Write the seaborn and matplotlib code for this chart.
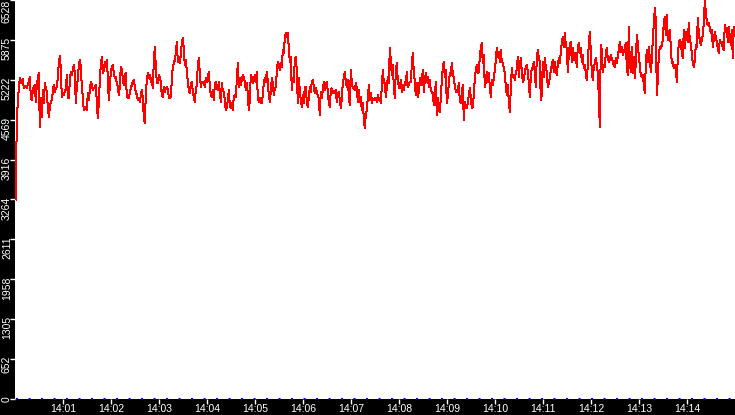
import pandas as pd
import seaborn as sns
import matplotlib.pyplot as plt
import matplotlib.dates as mdates
from matplotlib.transforms import ScaledTranslation

# samples every 1.25 s starting 14:00:01
part1 = [3264, 4619, 4837, 5082, 5246, 5164, 5218, 5229, 5082, 5120, 5109, 5093, 5137, 5191, 5273, 4946,
         4891, 5055, 5109, 5137, 4864, 5137, 5246, 5328, 4455, 4918, 4619, 5055, 4837, 5164, 5082, 5028,
         4782, 4619, 4755, 4864, 4891, 5028, 5137, 5028, 5082, 5109, 5246, 5491, 5611, 5409, 4946, 5000,
         4973, 5028, 5082, 5300, 4946, 4918, 5191, 5355, 5300, 5382, 5464, 5328, 4837, 5109, 5229, 5464,
         5546, 5437, 5109, 4946, 4728, 4755, 4782, 4728, 5000, 4891, 5055, 5191, 5137, 5055, 5082, 5109,
         5137, 4864, 4591, 4837, 5218, 5464, 5600, 5328, 5382, 5518, 5437, 5546, 5273, 4891, 5109, 5355,
         5437, 5464, 5328, 5246, 5273, 5164, 5109, 4973, 5109, 5437, 5382, 5246, 5137, 5300, 5328, 4946,
         4935, 4918, 5000, 5082, 5137, 5191, 5218, 5109]
part2 = [5028, 4973, 4891, 4918, 4864, 4973, 5055, 4918, 4619, 4510, 4973, 5218, 5328, 5246, 5300, 5191,
         5246, 5082, 5518, 5764, 5437, 5191, 5164, 5300, 5273, 5191, 4973, 4946, 5109, 5028, 5082, 5109,
         5055, 4946, 4918, 4946, 5218, 5437, 5491, 5546, 5655, 5846, 5518, 5600, 5491, 5627, 5818, 5900,
         5736, 5464, 5546, 5382, 5191, 5055, 5000, 5164, 5191, 5028, 4946, 4864, 5055, 5137, 5464, 5573,
         5328, 5109, 5191, 5164, 5191, 5109, 5246, 5191, 5273, 5355, 5137, 4973, 4946, 5055, 4891, 5137,
         5191, 5082, 5055, 5191, 5028, 4864, 5164, 5055, 5028, 4891, 4728, 4755, 4891, 5055, 4809, 4755,
         4837, 4728, 4946, 4973, 4946, 5218, 5491, 5109, 5246, 5137, 5218, 5300, 5273, 5191, 5055, 5164,
         5000, 4728, 4891, 5300, 5273, 5164, 5218, 5300]
part3 = [5191, 5355, 4946, 4864, 4918, 4837, 4837, 4973, 5164, 5246, 5191, 5355, 5191, 4973, 4864, 5028,
         5246, 5164, 4973, 5082, 5109, 5355, 5518, 5464, 5382, 5491, 5437, 5709, 5655, 5900, 5982, 5927,
         5982, 5736, 5518, 5600, 5055, 5246, 5191, 5546, 5600, 5382, 4837, 5246, 5055, 4891, 4782, 4973,
         4837, 5109, 5109, 4864, 4782, 4918, 5109, 5028, 5191, 5218, 5109, 5000, 5082, 5028, 4973, 4918,
         4646, 5028, 4918, 5055, 5191, 5055, 5137, 5191, 5028, 4837, 4782, 5055, 5082, 5028, 5000, 5028,
         5055, 4864, 4973, 5028, 4891, 4755, 4918, 5164, 5246, 5355, 5191, 5109, 5218, 4973, 4809, 5382,
         5191, 5082, 5109, 5055, 5164, 5082, 4864, 5055, 4864, 4946, 4728, 4837, 4591, 4428, 4646, 4728,
         4918, 5137, 4891, 5000, 4837, 4918, 4891, 4918]
part4 = [4918, 4864, 4973, 4891, 4918, 4837, 5109, 5382, 5191, 5164, 4946, 5082, 5273, 5164, 5736, 5546,
         5300, 5464, 5137, 4918, 5355, 5491, 5218, 5109, 5082, 5218, 5028, 5137, 5055, 5191, 5137, 5355,
         5109, 5137, 5191, 5191, 5464, 5655, 5355, 5191, 4973, 5164, 4946, 5028, 5246, 5137, 5191, 5382,
         5028, 5218, 5328, 5191, 5273, 5109, 5218, 5055, 5028, 5000, 4809, 4946, 5191, 4646, 4918, 4728,
         4700, 4918, 5218, 5409, 5518, 5273, 5382, 4837, 4946, 5164, 5328, 5300, 5491, 5328, 5246, 5137,
         5028, 5055, 5028, 5164, 4891, 4837, 4973, 5137, 4564, 4864, 4782, 4755, 4837, 4973, 5082, 4946,
         4755, 4782, 4973, 5246, 5382, 5464, 5328, 5355, 5600, 5736, 5818, 5491, 5627, 5109, 5191, 5355,
         5191, 5328, 5109, 4946, 5218, 5137, 5246, 5382]
part5 = [5546, 5737, 5601, 5683, 5519, 5710, 5519, 5492, 5410, 5328, 5110, 4974, 5138, 4865, 4701, 5083,
         5410, 5274, 5301, 5219, 5356, 5383, 5601, 5274, 5465, 5574, 5356, 5192, 5219, 5356, 5437, 5465,
         5356, 5165, 4947, 5274, 5410, 5437, 5519, 5328, 5110, 5574, 5710, 5574, 5519, 4892, 4974, 5519,
         5274, 5574, 5437, 5356, 5110, 5165, 5246, 5383, 5465, 5546, 5356, 5519, 5410, 5301, 5465, 5574,
         5492, 5683, 5819, 5928, 5765, 5983, 5792, 5737, 5356, 5628, 5792, 5846, 5519, 5737, 5546, 5656,
         5628, 5437, 5765, 5819, 5656, 5737, 5519, 5628, 5410, 5465, 5328, 5219, 5465, 5819, 6010, 5683,
         5356, 5219, 5437, 5492, 5574, 5465, 5328, 4947, 4456, 5792, 5710, 5356, 5465, 5437, 5656, 5737,
         5574, 5519, 5546, 5628, 5574, 5519, 5465, 5437]
part6 = [5574, 5492, 5601, 5710, 5846, 5683, 5765, 5628, 5683, 5737, 5819, 5437, 5301, 6092, 5519, 5356,
         5765, 5328, 5601, 5246, 5492, 5955, 5819, 5601, 5465, 5301, 5274, 5301, 5138, 5001, 5465, 5710,
         5519, 5765, 5574, 5356, 5546, 5874, 6146, 6392, 6201, 4974, 5219, 5628, 5765, 5737, 5792, 5874,
         6174, 6255, 5955, 6283, 5874, 6010, 6037, 5765, 5492, 5519, 5410, 5465, 5437, 5192, 5601, 5819,
         5874, 5846, 5656, 5574, 6037, 5737, 6010, 5928, 5846, 6146, 5874, 5819, 5656, 5492, 5437, 5546,
         5792, 5765, 6228, 5983, 5874, 5792, 5874, 5955, 6146, 6528, 6337, 6174, 6119, 6146, 6065, 5983,
         6037, 5765, 5874, 6010, 5928, 5846, 5737, 5656, 5874, 5819, 5846, 5737, 5710, 6119, 6037, 6065,
         5846, 6092, 5928, 5792, 6037, 5574, 6092, 6037]

y_max = 6528
y_ticklabels = ['0', '652', '1305', '1958', '2611', '3264', '3916', '4569', '5222', '5875', '6528']

values = part1 + part2 + part3 + part4 + part5 + part6
df = pd.DataFrame({
    'time': pd.date_range('2024-01-01 14:00:01', periods=len(values), freq='1250ms'),
    'value': values,
})

plt.rcParams['font.family'] = ['Liberation Sans', 'DejaVu Sans']
fig = plt.figure(figsize=(7.35, 4.15), dpi=100, facecolor='black')
ax = fig.add_axes([15 / 735, 16 / 415, 720 / 735, 399 / 415])
ax.set_facecolor('white')

sns.lineplot(data=df, x='time', y='value', color='red', linewidth=0.72,
             antialiased=False, ax=ax)
# second series sitting at zero
ax.plot(df['time'], [0] * len(df), color='blue', linewidth=1.5,
        linestyle=(0, (1, 5)), clip_on=False, zorder=3)

ax.set_xlim(pd.Timestamp('2024-01-01 14:00:00'), pd.Timestamp('2024-01-01 14:15:00'))
ax.set_ylim(0, y_max)
ax.set_xlabel('')
ax.set_ylabel('')

ax.xaxis.set_major_locator(mdates.MinuteLocator(byminute=range(1, 15)))
ax.xaxis.set_major_formatter(mdates.DateFormatter('%H:%M'))
ax.set_yticks([y_max * i / 10 for i in range(11)])
ax.set_yticklabels(y_ticklabels, rotation=90, va='top')

ax.tick_params(axis='both', colors='white', labelcolor='white', labelsize=7.5,
               length=3.6, width=1, direction='out', pad=0)

# nudge y labels: right into the strip, and a little above their tick
lbls = ax.get_yticklabels()
for i, lbl in enumerate(lbls):
    up = 0 if i == len(lbls) - 1 else 3
    lbl.set_transform(lbl.get_transform() + ScaledTranslation(2 / 100, up / 100, fig.dpi_scale_trans))

for s in ax.spines.values():
    s.set_visible(False)

fig.savefig('out.png', dpi=100, facecolor='black')
